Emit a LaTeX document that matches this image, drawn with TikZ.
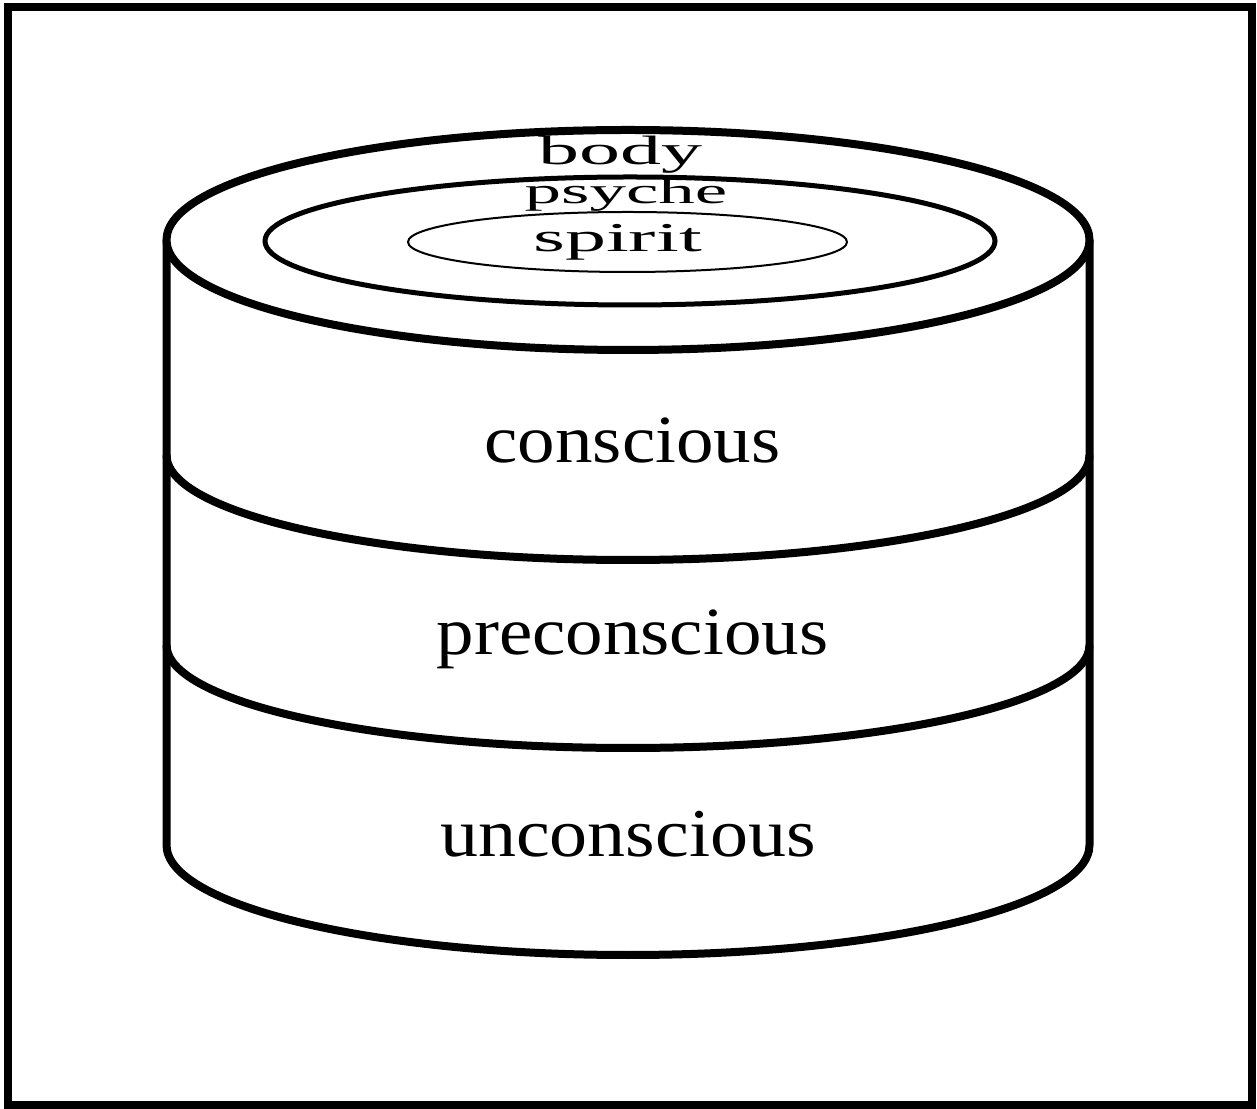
\documentclass[tikz,border=0pt]{standalone}
\usepackage{fontspec}
\setmainfont{Liberation Serif}
\begin{document}
\begin{tikzpicture}[x=1pt,y=1pt,
  thick8/.style={line width=8pt},
  lbl/.style={anchor=base, inner sep=0pt, yscale=0.9},
  toplbl/.style={anchor=base, inner sep=0pt, yscale=0.5}]
\useasboundingbox (0,0) rectangle (1257,1108);
\fill[white] (0,0) rectangle (1257,1108);
% frame
\draw[line width=8pt] (8,3.5) rectangle (1251.5,1101);
% cylinder body
\draw[thick8, line join=round] (166.5,868) -- (166.5,263)
  arc[start angle=180, end angle=360, x radius=461.5pt, y radius=110pt] -- (1089.5,868);
% layer boundaries
\draw[thick8] (166.5,653) arc[start angle=180, end angle=360, x radius=461.5pt, y radius=105pt];
\draw[thick8] (166.5,463) arc[start angle=180, end angle=360, x radius=461.5pt, y radius=103pt];
% top ellipses
\draw[thick8, fill=white] (628,868) ellipse[x radius=461.5pt, y radius=110pt];
\draw[line width=5pt] (630,867) ellipse[x radius=365pt, y radius=64pt];
\draw[line width=2pt] (627.5,866) ellipse[x radius=219.5pt, y radius=30pt];
% labels
\node[toplbl, font=\fontsize{82}{90}\selectfont] (body) at (620.5,943) {body};
\node[toplbl, font=\fontsize{73}{90}\selectfont] (psyche) at (626,904) {psyche};
\node[toplbl, font=\fontsize{82}{90}\selectfont] (spirit) at (617.5,856) {spirit};
\node[lbl, font=\fontsize{75}{90}\selectfont] (conscious) at (632.5,645) {conscious};
\node[lbl, font=\fontsize{75}{90}\selectfont] (preconscious) at (632.5,453) {preconscious};
\node[lbl, font=\fontsize{76}{90}\selectfont] (unconscious) at (628,251) {unconscious};
\end{tikzpicture}
\end{document}
